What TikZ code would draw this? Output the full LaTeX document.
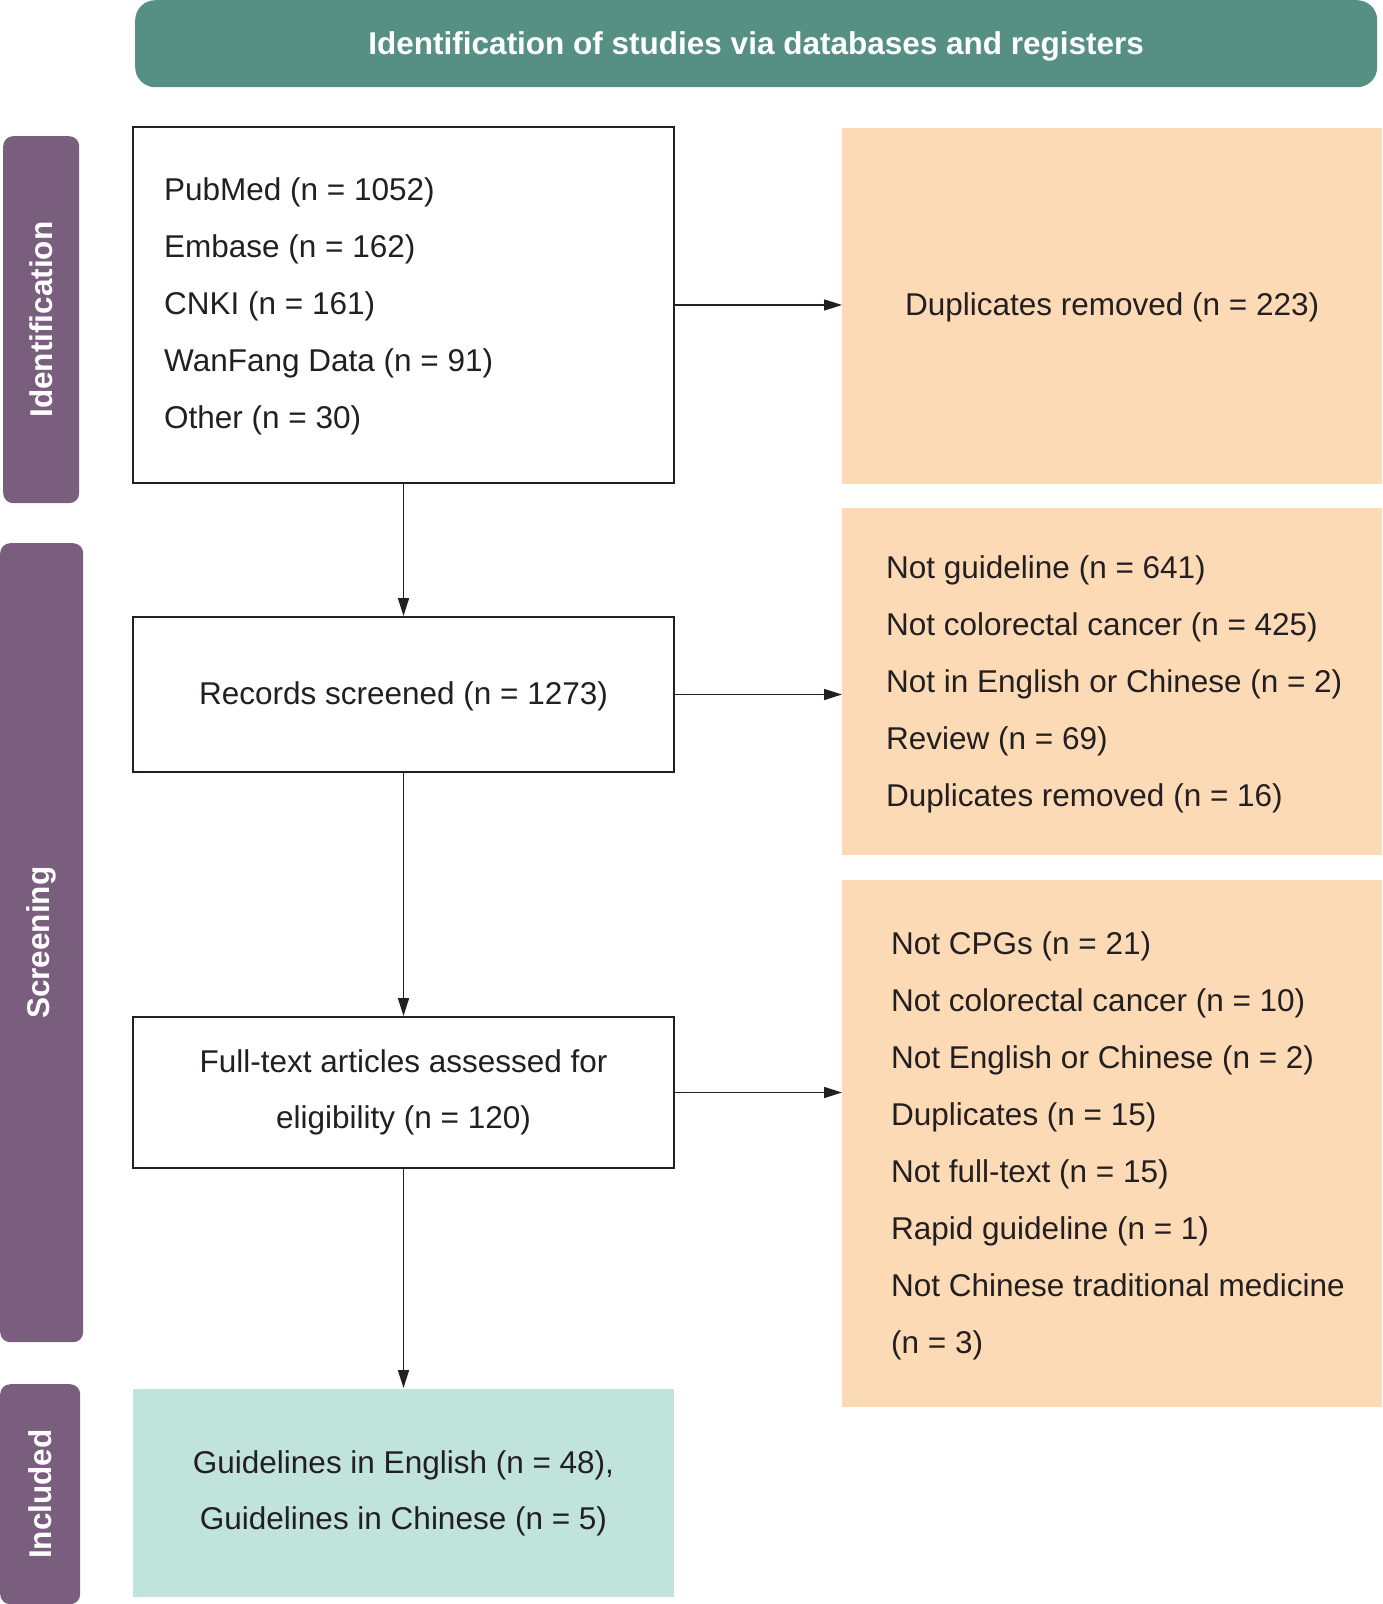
\documentclass[tikz,border=0pt]{standalone}
\usepackage{fontspec}
\setmainfont{Liberation Sans}
\usetikzlibrary{arrows.meta,calc}
\definecolor{ink}{RGB}{35,31,32}
\definecolor{tealhdr}{RGB}{86,143,132}
\definecolor{purp}{RGB}{122,94,126}
\definecolor{peach}{RGB}{252,218,182}
\definecolor{mint}{RGB}{192,227,219}
\begin{document}
\begin{tikzpicture}[x=1pt,y=-1pt,
  txt/.style={font=\fontsize{31.5}{57}\selectfont, text=ink, inner sep=0pt},
  wbox/.style={draw=ink, line width=2pt, fill=white, anchor=north west, inner sep=0pt, font=\fontsize{31.5}{56}\selectfont, text=ink, align=center},
  pbox/.style={fill=peach, anchor=north west, inner sep=0pt, font=\fontsize{31.5}{57}\selectfont, text=ink},
  sidebar/.style={fill=purp, rounded corners=10pt, anchor=north west, inner sep=0pt},
  sidelbl/.style={rotate=90, font=\fontsize{31.5}{38}\selectfont\bfseries, text=white, inner sep=0pt},
  arr/.style={draw=ink, line width=1.6pt, -{Triangle[length=18pt,width=11pt]}}
]
\useasboundingbox (0,0) rectangle (1382,1604);

% header
\node[fill=tealhdr, rounded corners=20pt, anchor=north west, minimum width=1242pt, minimum height=87pt, inner sep=0pt,
      text height=29pt, text depth=6.6pt,
      font=\fontsize{31.5}{38}\selectfont\bfseries, text=white] (hdr) at (135,0) {Identification of studies via databases and registers};

% side bars
\node[sidebar, minimum width=76pt, minimum height=367pt] (sid) at (3,136) {};
\node[sidelbl] (sidl) at (sid.center) {Identification};
\node[sidebar, minimum width=83pt, minimum height=799pt] (scr) at (0,543) {};
\node[sidelbl] (scrl) at (scr.center) {Screening};
\node[sidebar, minimum width=80pt, minimum height=220pt] (inc) at (0,1384) {};
\node[sidelbl] (incl) at (inc.center) {Included};

% main column
\node[wbox, minimum width=541pt, minimum height=356pt] (idb) at (132,126) {};
\node[txt, align=left, anchor=west] (idt) at ([xshift=32pt,yshift=-1.5pt]idb.west)
  {PubMed (n = 1052)\\Embase (n = 162)\\CNKI (n = 161)\\WanFang Data (n = 91)\\Other (n = 30)};
\node[wbox, minimum width=541pt, minimum height=155pt, text height=26pt] (rec) at (132,616) {Records screened (n = 1273)};
\node[wbox, minimum width=541pt, minimum height=151pt] (ft) at (132,1016) {Full-text articles assessed for\\eligibility (n = 120)};
\node[wbox, draw=none, fill=mint, minimum width=541pt, minimum height=208pt] (incb) at (132,1388) {Guidelines in English (n = 48),\\Guidelines in Chinese (n = 5)};

% right column
\node[pbox, minimum width=540pt, minimum height=356pt, text height=26pt] (dup) at (842,128) {Duplicates removed (n = 223)};
\node[pbox, minimum width=540pt, minimum height=347pt] (ex2) at (842,508) {};
\node[txt, align=left, anchor=west] (ex2t) at ([xshift=44pt,yshift=-2.5pt]ex2.west)
  {Not guideline (n = 641)\\Not colorectal cancer (n = 425)\\Not in English or Chinese (n = 2)\\Review (n = 69)\\Duplicates removed (n = 16)};
\node[pbox, minimum width=540pt, minimum height=527pt] (ex3) at (842,880) {};
\node[txt, align=left, anchor=west] (ex3t) at ([xshift=49pt,yshift=-2.5pt]ex3.west)
  {Not CPGs (n = 21)\\Not colorectal cancer (n = 10)\\Not English or Chinese (n = 2)\\Duplicates (n = 15)\\Not full-text (n = 15)\\Rapid guideline (n = 1)\\Not Chinese traditional medicine\\(n = 3)};

% connectors
\draw[arr] (idb.south) -- (rec.north);
\draw[arr] (rec.south) -- (ft.north);
\draw[arr] (ft.south) -- (incb.north);
\draw[arr] (idb.east) -- (idb.east -| dup.west);
\draw[arr] (rec.east) -- (rec.east -| ex2.west);
\draw[arr] (ft.east) -- (ft.east -| ex3.west);
\end{tikzpicture}
\end{document}
